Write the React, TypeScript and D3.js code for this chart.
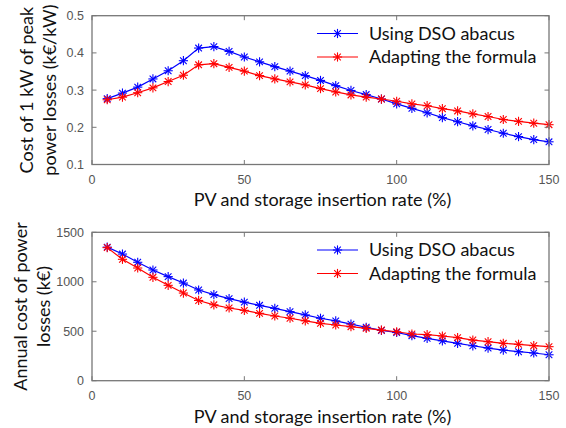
import React from "react";
import * as d3 from "d3";

const rates = [5, 10, 15, 20, 25, 30, 35, 40, 45, 50, 55, 60, 65, 70, 75, 80, 85, 90, 95, 100, 105, 110, 115, 120, 125, 130, 135, 140, 145, 150];

const peakAbacus = [0.277, 0.292, 0.308, 0.33, 0.352, 0.379, 0.413, 0.417, 0.404, 0.389, 0.376, 0.363, 0.351, 0.339, 0.326, 0.312, 0.299, 0.288, 0.276, 0.263, 0.251, 0.239, 0.226, 0.215, 0.204, 0.194, 0.184, 0.175, 0.167, 0.161];
const peakFormula = [0.274, 0.281, 0.293, 0.306, 0.323, 0.34, 0.368, 0.371, 0.361, 0.351, 0.339, 0.33, 0.322, 0.314, 0.304, 0.295, 0.287, 0.281, 0.276, 0.27, 0.263, 0.258, 0.25, 0.244, 0.236, 0.229, 0.221, 0.216, 0.211, 0.207];

const annualAbacus = [1350, 1280, 1197, 1119, 1052, 987, 917, 870, 830, 794, 762, 731, 698, 665, 631, 605, 572, 540, 508, 487, 455, 428, 403, 378, 353, 330, 310, 293, 280, 262];
const annualFormula = [1345, 1227, 1139, 1045, 964, 886, 811, 767, 735, 711, 681, 654, 631, 605, 580, 563, 546, 529, 512, 495, 472, 465, 452, 435, 411, 394, 378, 368, 354, 344];

const xTicks = [0, 50, 100, 150];
const peakTicks = [0.1, 0.2, 0.3, 0.4, 0.5];
const annualTicks = [0, 500, 1000, 1500];
const peakTickLabels = ["0.1", "0.2", "0.3", "0.4", "0.5"];
const annualTickLabels = ["0", "500", "1000", "1500"];

const seriesNames = ["Using DSO abacus", "Adapting the formula"];
const seriesColors = ["#0000ff", "#ff0000"];

const xTitle = "PV and storage insertion rate (%)";
const peakTitle = ["Cost of 1 kW of peak", "power losses (k€/kW)"];
const annualTitle = ["Annual cost of power", "losses (k€)"];

const TEXT_FONT = "Lato, 'Open Sans', sans-serif";
const TICK_FONT = "'Liberation Sans', Arial, sans-serif";
const AXIS_COLOR = "#777";

function Star({ x, y, color }: { x: number; y: number; color: string }) {
  const r = 4.6;
  const d = r * 0.72;
  return (
    <g stroke={color} strokeWidth={1.1}>
      <line x1={x - r} y1={y} x2={x + r} y2={y} />
      <line x1={x} y1={y - r} x2={x} y2={y + r} />
      <line x1={x - d} y1={y - d} x2={x + d} y2={y + d} />
      <line x1={x - d} y1={y + d} x2={x + d} y2={y - d} />
    </g>
  );
}

function Panel({
  top,
  bottom,
  domain,
  yTicks,
  yTickLabels,
  series,
  title,
  titleX,
  legendY,
  xTitleY,
}: {
  top: number;
  bottom: number;
  domain: [number, number];
  yTicks: number[];
  yTickLabels: string[];
  series: number[][];
  title: string[];
  titleX: number[];
  legendY: number[];
  xTitleY: number;
}) {
  const left = 92;
  const right = 549;
  const x = d3.scaleLinear().domain([0, 150]).range([left, right]);
  const y = d3.scaleLinear().domain(domain).range([bottom, top]);
  const line = d3
    .line<number>()
    .x((_, i) => x(rates[i]))
    .y((v) => y(v));
  const tl = 4.5;
  const midY = (top + bottom) / 2;
  return (
    <g>
      {series.map((s, si) => (
        <g key={si}>
          <path d={line(s) || ""} fill="none" stroke={seriesColors[si]} strokeWidth={1.2} />
          {s.map((v, i) => (
            <Star key={i} x={x(rates[i])} y={y(v)} color={seriesColors[si]} />
          ))}
        </g>
      ))}
      <rect x={left} y={top} width={right - left} height={bottom - top} fill="none" stroke={AXIS_COLOR} strokeWidth={1.3} />
      {xTicks.map((t) => (
        <g key={"x" + t}>
          <line x1={x(t)} x2={x(t)} y1={bottom} y2={bottom - tl} stroke={AXIS_COLOR} />
          <line x1={x(t)} x2={x(t)} y1={top} y2={top + tl} stroke={AXIS_COLOR} />
          <text x={x(t)} y={bottom + 19} textAnchor="middle" fontFamily={TICK_FONT} fontSize={12.5} fill="#555">
            {t}
          </text>
        </g>
      ))}
      {yTicks.map((t, i) => (
        <g key={"y" + t}>
          <line x1={left} x2={left + tl} y1={y(t)} y2={y(t)} stroke={AXIS_COLOR} />
          <line x1={right} x2={right - tl} y1={y(t)} y2={y(t)} stroke={AXIS_COLOR} />
          <text x={left - 8} y={y(t) + 4.5} textAnchor="end" fontFamily={TICK_FONT} fontSize={12.5} fill="#555">
            {yTickLabels[i]}
          </text>
        </g>
      ))}
      <text x={(left + right) / 2 + 2} y={xTitleY} textAnchor="middle" fontFamily={TEXT_FONT} fontSize={18} fill="#111">
        {xTitle}
      </text>
      {title.map((t, i) => (
        <text
          key={i}
          transform={`translate(${titleX[i] + 6},${midY}) rotate(-90)`}
          textAnchor="middle"
          fontFamily={TEXT_FONT}
          fontSize={18}
          fill="#111"
        >
          {t}
        </text>
      ))}
      {seriesNames.map((n, i) => (
        <g key={n}>
          <line x1={317} x2={358} y1={legendY[i]} y2={legendY[i]} stroke={seriesColors[i]} strokeWidth={1.2} />
          <Star x={337.5} y={legendY[i]} color={seriesColors[i]} />
          <text x={369} y={legendY[i] + 6} fontFamily={TEXT_FONT} fontSize={18} fill="#111">
            {n}
          </text>
        </g>
      ))}
    </g>
  );
}

export default function App() {
  return (
    <svg
      width={566}
      height={428}
      style={{ position: "absolute", left: 0, top: 0, background: "#fff" }}
      xmlns="http://www.w3.org/2000/svg"
    >
      <rect width={566} height={428} fill="#fff" />
      <Panel
        top={15.7}
        bottom={164.5}
        domain={[0.1, 0.5]}
        yTicks={peakTicks}
        yTickLabels={peakTickLabels}
        series={[peakAbacus, peakFormula]}
        title={peakTitle}
        titleX={[27, 50]}
        legendY={[33.5, 57]}
        xTitleY={206}
      />
      <Panel
        top={232.3}
        bottom={380.7}
        domain={[0, 1500]}
        yTicks={annualTicks}
        yTickLabels={annualTickLabels}
        series={[annualAbacus, annualFormula]}
        title={annualTitle}
        titleX={[21, 44]}
        legendY={[250, 273.5]}
        xTitleY={423}
      />
    </svg>
  );
}
